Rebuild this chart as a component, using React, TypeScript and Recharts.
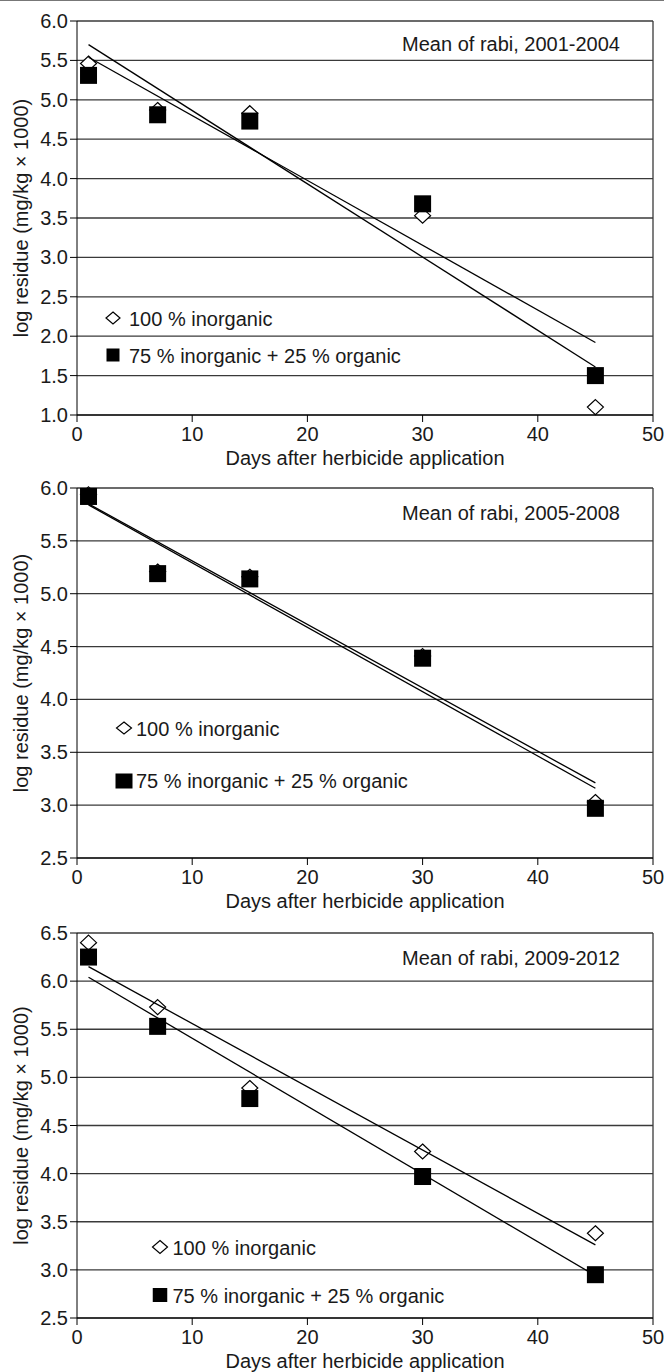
import { ComposedChart, Scatter, XAxis, YAxis, CartesianGrid, ReferenceLine } from "recharts";

const FONT = '"Liberation Sans", Arial, Helvetica, sans-serif';
const INK = "#1a1a1a";
const FS = 20;

// sampling days
const days = [1, 7, 15, 30, 45];
const trendDays = [1, 45];
const xTicks = [0, 10, 20, 30, 40, 50];

// rabi 2001-2004
const inorg1 = [5.46, 4.87, 4.83, 3.53, 1.1];
const mixed1 = [5.31, 4.81, 4.73, 3.68, 1.5];
const inorgTrend1 = [5.7, 1.61];
const mixedTrend1 = [5.54, 1.92];
const yTicks1 = [1.0, 1.5, 2.0, 2.5, 3.0, 3.5, 4.0, 4.5, 5.0, 5.5, 6.0];

// rabi 2005-2008
const inorg2 = [5.94, 5.21, 5.16, 4.41, 3.03];
const mixed2 = [5.92, 5.19, 5.14, 4.39, 2.97];
const inorgTrend2 = [5.85, 3.21];
const mixedTrend2 = [5.84, 3.16];
const yTicks2 = [2.5, 3.0, 3.5, 4.0, 4.5, 5.0, 5.5, 6.0];

// rabi 2009-2012
const inorg3 = [6.4, 5.73, 4.89, 4.23, 3.38];
const mixed3 = [6.25, 5.53, 4.78, 3.97, 2.95];
const inorgTrend3 = [6.15, 3.26];
const mixedTrend3 = [6.04, 2.94];
const yTicks3 = [2.5, 3.0, 3.5, 4.0, 4.5, 5.0, 5.5, 6.0, 6.5];

const toPoints = (xs: number[], ys: number[]) => xs.map((x, i) => ({ x, y: ys[i] }));

const diamondPath = (cx: number, cy: number, w: number, h: number) =>
  `M${cx},${cy - h}L${cx + w},${cy}L${cx},${cy + h}L${cx - w},${cy}Z`;

const Diamond = (props: any) => {
  const { cx, cy } = props;
  return <path d={diamondPath(cx, cy, 8, 7.5)} fill="#fff" stroke="#000" strokeWidth={1.2} />;
};

const Square = (props: any) => {
  const { cx, cy } = props;
  return <rect x={cx - 8.5} y={cy - 8.5} width={17} height={17} fill="#000" />;
};

const NoDot = () => <g />;

const YTick = (props: any) => {
  const { x, y, payload } = props;
  return (
    <text x={x} y={y} textAnchor="end" dominantBaseline="central" fill={INK} fontSize={FS} fontFamily={FONT}>
      {Number(payload.value).toFixed(1)}
    </text>
  );
};

const XTick = (props: any) => {
  const { x, y, payload } = props;
  return (
    <text x={x} y={y + 10} textAnchor="middle" dominantBaseline="central" fill={INK} fontSize={FS} fontFamily={FONT}>
      {payload.value}
    </text>
  );
};

const textStyle: any = {
  position: "absolute",
  lineHeight: "22px",
  fontSize: FS,
  fontFamily: FONT,
  color: INK,
  whiteSpace: "nowrap",
};

function Panel({ top, plotH, yTicks, inorg, mixed, inorgTrend, mixedTrend, title, legend }: any) {
  const height = 21 + plotH + 55;
  const [dw, dh] = legend.diamond;
  const [sw, sh] = legend.square;
  return (
    <div style={{ position: "absolute", left: 0, top, width: 664, height }}>
      <ComposedChart width={664} height={height} margin={{ top: 21, right: 11, bottom: 0, left: 0 }}>
        <CartesianGrid vertical={false} stroke="#3a3a3a" strokeWidth={1.3} />
        <XAxis
          type="number"
          dataKey="x"
          domain={[0, 50]}
          ticks={xTicks}
          height={55}
          tickSize={7}
          tickMargin={2}
          stroke="#000"
          tick={<XTick />}
          label={{
            content: ({ viewBox }: any) => (
              <text
                x={viewBox.x + viewBox.width / 2}
                y={viewBox.y + 43}
                textAnchor="middle"
                dominantBaseline="central"
                fill={INK}
                fontSize={FS}
                fontFamily={FONT}
              >
                Days after herbicide application
              </text>
            ),
          }}
        />
        <YAxis
          type="number"
          dataKey="y"
          domain={[yTicks[0], yTicks[yTicks.length - 1]]}
          ticks={yTicks}
          width={77}
          tickSize={7}
          tickMargin={2}
          stroke="#000"
          tick={<YTick />}
          label={{
            content: ({ viewBox }: any) => {
              const cy = viewBox.y + viewBox.height / 2;
              return (
                <text
                  transform={`translate(21,${cy}) rotate(-90)`}
                  textAnchor="middle"
                  dominantBaseline="central"
                  fill={INK}
                  fontSize={FS}
                  fontFamily={FONT}
                >
                  log residue (mg/kg × 1000)
                </text>
              );
            },
          }}
        />
        <ReferenceLine x={50} stroke="#3a3a3a" strokeWidth={1.3} />
        <Scatter data={toPoints(days, inorg)} shape={Diamond} isAnimationActive={false} />
        <Scatter data={toPoints(days, mixed)} shape={Square} isAnimationActive={false} />
        <Scatter
          data={toPoints(trendDays, inorgTrend)}
          line={{ stroke: "#000", strokeWidth: 1.3 }}
          shape={NoDot}
          isAnimationActive={false}
        />
        <Scatter
          data={toPoints(trendDays, mixedTrend)}
          line={{ stroke: "#000", strokeWidth: 1.3 }}
          shape={NoDot}
          isAnimationActive={false}
        />
      </ComposedChart>

      {/* title + legend */}
      <div style={{ ...textStyle, right: 664 - 620, top: legend.ty - 10.5 }}>{title}</div>
      {[
        { y: legend.y1, label: "100 % inorganic", mark: "diamond" },
        { y: legend.y2, label: "75 % inorganic + 25 % organic", mark: "square" },
      ].map((item) => (
        <div key={item.label}>
          <svg width={20} height={20} style={{ position: "absolute", left: legend.mx - 10, top: item.y - 10 }}>
            {item.mark === "diamond" ? (
              <path d={diamondPath(10, 10, dw / 2, dh / 2)} fill="#fff" stroke="#000" strokeWidth={1.2} />
            ) : (
              <rect x={10 - sw / 2} y={10 - sh / 2} width={sw} height={sh} fill="#000" />
            )}
          </svg>
          <div style={{ ...textStyle, left: legend.tx, top: item.y - 10.5 }}>{item.label}</div>
        </div>
      ))}
    </div>
  );
}

export default function App() {
  return (
    <div style={{ position: "absolute", left: 0, top: 0, width: 664, height: 1372, background: "#fff" }}>
      <div style={{ position: "absolute", left: 0, top: 0, width: 664, height: 1, background: "#777" }} />
      <Panel
        top={0}
        plotH={394}
        yTicks={yTicks1}
        inorg={inorg1}
        mixed={mixed1}
        inorgTrend={inorgTrend1}
        mixedTrend={mixedTrend1}
        title="Mean of rabi, 2001-2004"
        legend={{ ty: 43, mx: 112.5, tx: 129, y1: 318, y2: 355, diamond: [14, 12], square: [13, 13] }}
      />
      <Panel
        top={467}
        plotH={370}
        yTicks={yTicks2}
        inorg={inorg2}
        mixed={mixed2}
        inorgTrend={inorgTrend2}
        mixedTrend={mixedTrend2}
        title="Mean of rabi, 2005-2008"
        legend={{ ty: 45.5, mx: 123.5, tx: 136, y1: 261, y2: 313.5, diamond: [15, 12], square: [17, 15] }}
      />
      <Panel
        top={912}
        plotH={385}
        yTicks={yTicks3}
        inorg={inorg3}
        mixed={mixed3}
        inorgTrend={inorgTrend3}
        mixedTrend={mixedTrend3}
        title="Mean of rabi, 2009-2012"
        legend={{ ty: 45.5, mx: 160, tx: 172.5, y1: 335, y2: 383, diamond: [15, 13], square: [14.5, 14] }}
      />
    </div>
  );
}
